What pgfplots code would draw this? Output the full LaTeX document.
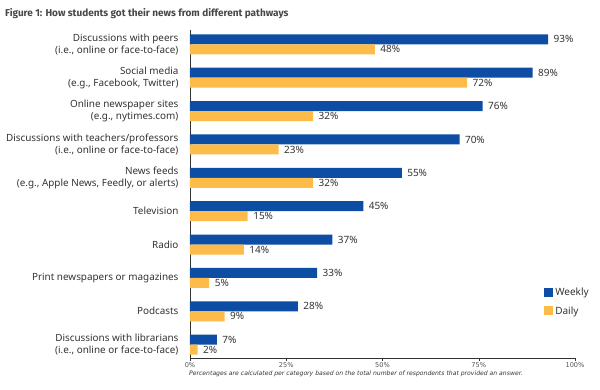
\documentclass[border=0pt]{standalone}
\usepackage{pgfplots}
\pgfplotsset{compat=1.18}
\usepackage{fontspec}
\setmainfont{Noto Sans}
\newfontfamily\titlefont{Fira Sans}
\newfontfamily\notefont{DejaVu Sans}
\definecolor{weekly}{HTML}{0E4DA4}
\definecolor{daily}{HTML}{FDBB4A}
\definecolor{txt}{HTML}{333333}
\begin{document}
\begin{tikzpicture}
\useasboundingbox (0pt,0pt) rectangle (600pt,390pt);
\node[anchor=west, font=\titlefont\bfseries\fontsize{10}{12}\selectfont, text=txt!90, inner sep=0pt] at (5pt,376pt) {Figure 1: How students got their news from different pathways};
\node[anchor=west, font=\notefont\itshape\fontsize{6.1}{7}\selectfont, text=txt, inner sep=0pt] at (189pt,16pt) {Percentages are calculated per category based on the total number of respondents that provided an answer.};
\begin{axis}[
  at={(190pt,32pt)}, anchor=south west,
  scale only axis, width=385pt, height=328pt,
  xbar, bar width=10pt,
  xmin=0, xmax=100, ymin=-0.4, ymax=9.43,
  axis x line*=bottom, axis y line*=left,
  axis line style={txt, line width=0.8pt},
  xtick={0,25,50,75,100},
  xticklabels={0\%,25\%,50\%,75\%,100\%},
  tick align=outside, major tick length=3pt,
  xtick style={txt},
  xticklabel style={font=\notefont\fontsize{6.6}{8}\selectfont, text=txt!85, yshift=2pt},
  ytick={0,...,9},
  ytick style={draw=none},
  yticklabels={{Discussions with librarians\\(i.e., online or face-to-face)},
    {Podcasts},{Print newspapers or magazines},{Radio},{Television},
    {News feeds\\(e.g., Apple News, Feedly, or alerts)},
    {Discussions with teachers/professors\\(i.e., online or face-to-face)},
    {Online newspaper sites\\(e.g., nytimes.com)},
    {Social media\\(e.g., Facebook, Twitter)},
    {Discussions with peers\\(i.e., online or face-to-face)}},
  yticklabel style={align=right, font=\fontsize{9.9}{12}\selectfont, text=txt, xshift=-5pt},
  point meta=explicit symbolic,
  nodes near coords={\pgfplotspointmeta\%},
  nodes near coords style={anchor=west, font=\fontsize{10}{11}\selectfont, text=txt, xshift=2pt},
  legend style={draw=none, fill=none, at={(0.912,0.225)}, anchor=north west,
    font=\fontsize{10}{11}\selectfont, text=txt, row sep=5pt},
  legend cell align=left,
  area legend,
  legend image code/.code={\fill[#1] (0pt,-4pt) rectangle (9pt,5pt);},
]
\addplot[fill=weekly, draw=none, bar shift=5pt] coordinates {
 (7,0) [7] (28,1) [28] (33,2) [33] (37,3) [37] (45,4) [45]
 (55,5) [55] (70,6) [70] (76,7) [76] (89,8) [89] (93,9) [93]};
\addplot[fill=daily, draw=none, bar shift=-5pt] coordinates {
 (2,0) [2] (9,1) [9] (5,2) [5] (14,3) [14] (15,4) [15]
 (32,5) [32] (23,6) [23] (32,7) [32] (72,8) [72] (48,9) [48]};
\legend{Weekly, Daily}
\end{axis}
\end{tikzpicture}
\end{document}
